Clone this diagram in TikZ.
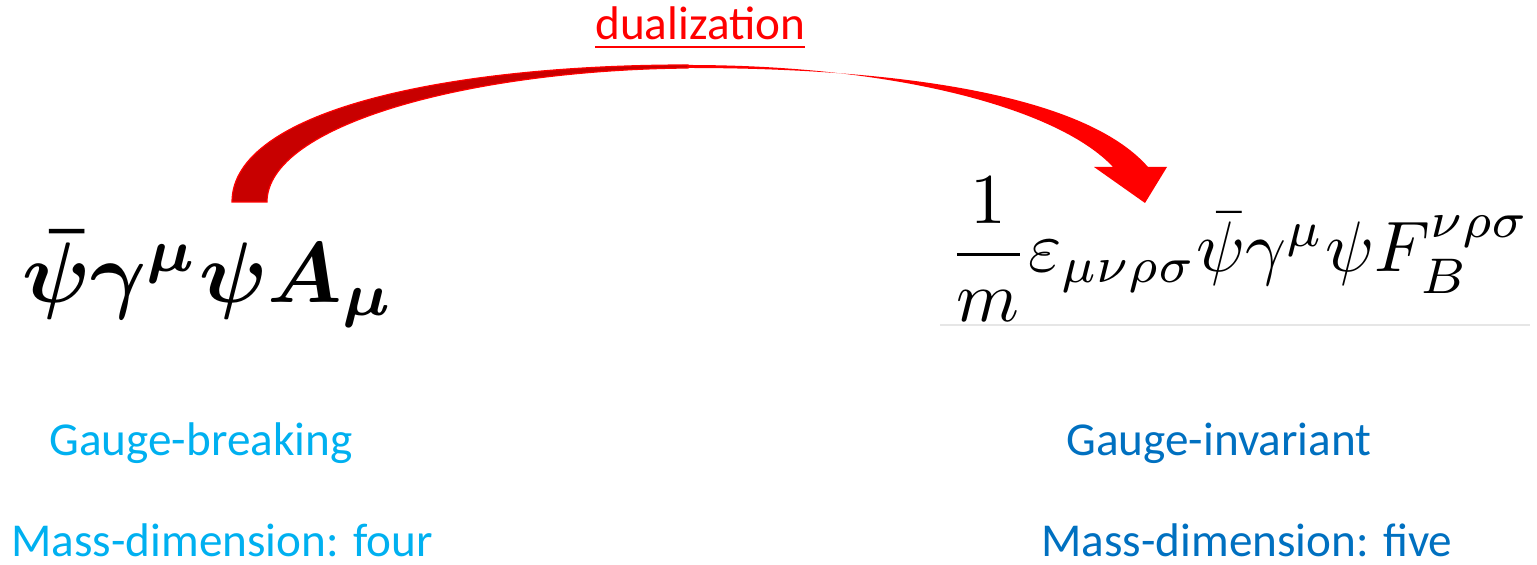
\documentclass[tikz,border=0pt]{standalone}
\usepackage{fontspec}
\usepackage{amsmath}
\usepackage{graphicx}
\setmainfont{Carlito}
\definecolor{lblue}{HTML}{00B0F0}
\definecolor{dblue}{HTML}{0070C0}
\definecolor{arrdark}{HTML}{C80000}
\definecolor{arrred}{HTML}{FF0000}
\definecolor{rule}{HTML}{E6E6E6}
\tikzset{
  lbl/.style={inner sep=0pt, anchor=base west, font=\fontsize{23.6}{28}\selectfont},
  formula/.style={inner sep=0pt, anchor=base west},
}
\begin{document}
\begin{tikzpicture}[x=0.5pt,y=-0.5pt]
\useasboundingbox (0,0) rectangle (1537,565);
% formulas
\node[formula] (lf) at (22,303) {\resizebox{186pt}{!}{\boldmath$\bar\psi\gamma^{\mu}\psi A_{\mu}$}};
\node[formula] (rf) at (948,272) {\resizebox{291pt}{!}{$\dfrac{1}{m}\varepsilon_{\mu\nu\rho\sigma}\bar\psi\gamma^{\mu}\psi F_B^{\nu\rho\sigma}$}};
\draw[rule, line width=0.6pt] (940,325) -- (1530,325);
% labels
\node[lbl, text=arrred] (dual) at (595,40) {\underline{dualization}};
\node[lbl, text=lblue] (gb) at (49,456) {Gauge-breaking};
\node[lbl, text=lblue] (md4) at (11,557) {Mass-dimension: four};
\node[lbl, text=dblue] (gi) at (1066,456) {Gauge-invariant};
\node[lbl, text=dblue] (md5) at (1041,557) {Mass-dimension: five};
% curved arrow
\fill[arrred] (688,65) .. controls (900,65) and (1060,110) .. (1113,167)
  -- (1094,167) -- (1145,203) -- (1167,167) -- (1148,167)
  .. controls (1085,95) and (900,68) .. (688,68) -- cycle;
\filldraw[fill=arrdark, draw=arrred, line width=0.6pt]
  (232,202) .. controls (232,110) and (450,65) .. (688,65)
  -- (688,68) .. controls (470,70) and (267,125) .. (267,202) -- cycle;
\end{tikzpicture}
\end{document}
